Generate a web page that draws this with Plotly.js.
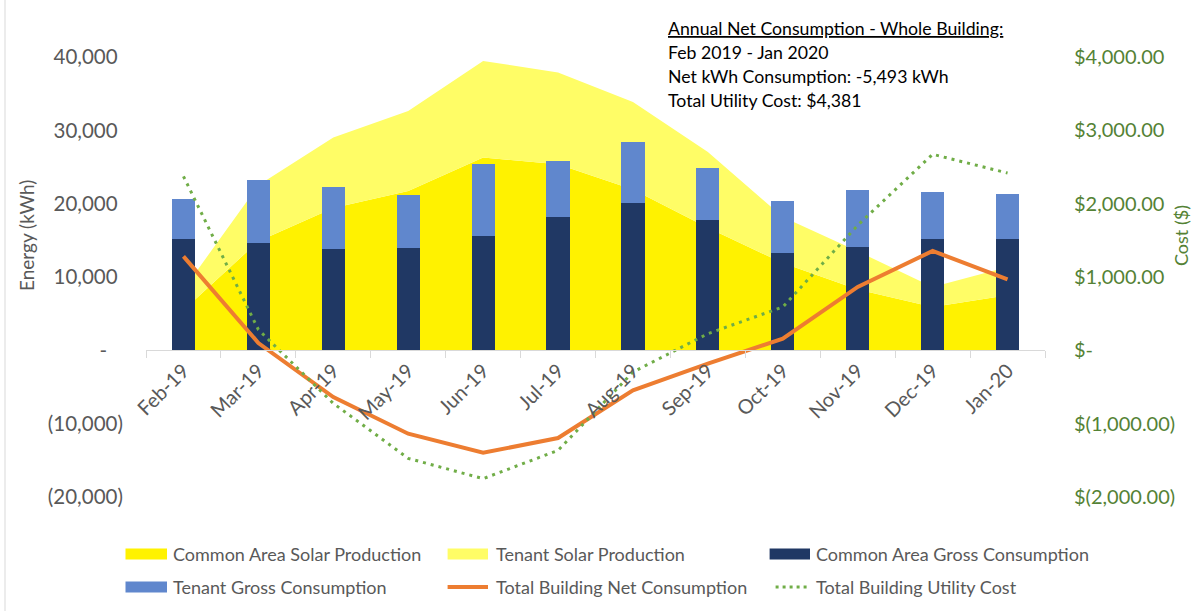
<!DOCTYPE html>
<html>
<head>
<meta charset="utf-8">
<script src="https://cdn.plot.ly/plotly-3.0.1.min.js"></script>
<style>html,body{margin:0;padding:0;background:#fff;}#chart{width:1193px;height:611px;}</style>
</head>
<body>
<div id="chart"></div>
<script>
// ---- data ----
const months = ['Feb-19','Mar-19','Apr-19','May-19','Jun-19','Jul-19','Aug-19','Sep-19','Oct-19','Nov-19','Dec-19','Jan-20'];
const commonSolar = [5460, 14870, 19410, 21730, 26280, 25370, 21920, 16730, 11910, 8280, 5910, 7500];
const tenantSolar = [2840, 7630, 9600, 10910, 13180, 12510, 11950, 10320, 6270, 5220, 2730, 3860];
const commonGross = [15240, 14690, 13870, 14010, 15640, 18240, 20090, 17780, 13320, 14090, 15140, 15140];
const tenantGross = [5360, 8590, 8410, 7130, 9830, 7540, 8320, 7050, 7000, 7780, 6510, 6230];
const netConsumption = [12820, 1000, -6370, -11370, -13960, -11960, -5460, -1820, 1590, 8640, 13550, 9690];
const utilityCost = [2373, 282, -723, -1473, -1750, -1364, -296, 227, 591, 1705, 2673, 2418];

const energyTicks = [-20000, -10000, 0, 10000, 20000, 30000, 40000];
const energyTickText = ['(20,000)', '(10,000)', '-\u00a0\u00a0\u00a0', '10,000\u00a0', '20,000\u00a0', '30,000\u00a0', '40,000\u00a0'];
const costTicks = [-2000, -1000, 0, 1000, 2000, 3000, 4000];
const costTickText = ['$(2,000.00)', '$(1,000.00)', '$-', '$1,000.00', '$2,000.00', '$3,000.00', '$4,000.00'];

const infoLines = [
  '<u>Annual Net Consumption - Whole Building:</u>',
  'Feb 2019 - Jan 2020',
  'Net kWh Consumption: -5,493 kWh',
  'Total Utility Cost: $4,381'
];

const seriesNames = ['Common Area Solar Production', 'Tenant Solar Production', 'Common Area Gross Consumption',
                     'Tenant Gross Consumption', 'Total Building Net Consumption', 'Total Building Utility Cost'];
const seriesColors = ['#FFF200', '#FFFD66', '#203864', '#6087CD', '#ED7D31', '#70AD47'];

// ---- geometry helpers ----
const W = 1193, H = 611;
const M = {l: 146, r: 148, t: 57, b: 114, autoexpand: false};
const PW = W - M.l - M.r, PH = H - M.t - M.b;
const px = x => (x - M.l) / PW;
const py = y => (H - M.b - y) / PH;

const FONT = 'Lato, "Open Sans", sans-serif';
const GRAY = '#595959';
const GREEN_TXT = '#548235';

const traces = [
  {name: seriesNames[0], x: months, y: commonSolar, type: 'scatter', mode: 'lines',
   stackgroup: 'solar', line: {width: 0, color: seriesColors[0]}, fillcolor: seriesColors[0], xaxis: 'x', yaxis: 'y'},
  {name: seriesNames[1], x: months, y: tenantSolar, type: 'scatter', mode: 'lines',
   stackgroup: 'solar', line: {width: 0, color: seriesColors[1]}, fillcolor: seriesColors[1], xaxis: 'x', yaxis: 'y'},
  {name: seriesNames[2], x: months, y: commonGross, type: 'bar',
   marker: {color: seriesColors[2]}, xaxis: 'x', yaxis: 'y2'},
  {name: seriesNames[3], x: months, y: tenantGross, type: 'bar',
   marker: {color: seriesColors[3]}, xaxis: 'x', yaxis: 'y2'},
  {name: seriesNames[4], x: months, y: netConsumption, type: 'scatter', mode: 'lines',
   line: {color: seriesColors[4], width: 4}, xaxis: 'x', yaxis: 'y2'},
  {name: seriesNames[5], x: months, y: utilityCost, type: 'scatter', mode: 'lines',
   line: {color: seriesColors[5], width: 3, dash: '3px,5px'}, xaxis: 'x', yaxis: 'y3'}
];

const annotations = infoLines.map((t, i) => ({
  text: t, xref: 'paper', yref: 'paper', x: px(666), y: py([28.5, 52.5, 76.5, 100][i]),
  xanchor: 'left', yanchor: 'middle', showarrow: false, align: 'left',
  font: {family: FONT, size: 17.7, color: '#000000'}
}));
annotations.push({
  text: 'Energy (kWh)', xref: 'paper', yref: 'paper', x: px(26), y: py(236), textangle: -90,
  xanchor: 'center', yanchor: 'middle', showarrow: false, font: {family: FONT, size: 19, color: GRAY}
});
annotations.push({
  text: 'Cost ($)', xref: 'paper', yref: 'paper', x: px(1181), y: py(236), textangle: -90,
  xanchor: 'center', yanchor: 'middle', showarrow: false, font: {family: FONT, size: 18, color: GREEN_TXT}
});

// ---- legend drawn as layout decoration (3 columns x 2 rows, like the reference) ----
const legCols = [{sym: [125.5, 167], txt: 171}, {sym: [447.6, 488], txt: 493.5}, {sym: [769.6, 810], txt: 814}];
const legRows = [554, 587];
const shapes = [{type: 'line', xref: 'paper', yref: 'paper', x0: px(5), x1: px(5), y0: py(611), y1: py(0),
                 line: {color: '#D9D9D9', width: 1}}];
seriesNames.forEach((nm, i) => {
  const col = legCols[i % 3], rowY = legRows[Math.floor(i / 3)];
  if (i < 4) {
    shapes.push({type: 'rect', xref: 'paper', yref: 'paper', x0: px(col.sym[0]), x1: px(col.sym[1]),
                 y0: py(rowY + 5.5), y1: py(rowY - 5.5), line: {width: 0}, fillcolor: seriesColors[i]});
  } else if (i === 4) {
    shapes.push({type: 'line', xref: 'paper', yref: 'paper', x0: px(col.sym[0]), x1: px(col.sym[1]),
                 y0: py(rowY), y1: py(rowY), line: {color: seriesColors[i], width: 4}});
  } else {
    shapes.push({type: 'line', xref: 'paper', yref: 'paper', x0: px(col.sym[0] + 6), x1: px(col.sym[1]),
                 y0: py(rowY), y1: py(rowY), line: {color: seriesColors[i], width: 3, dash: '3px,4px'}});
  }
  annotations.push({text: nm, xref: 'paper', yref: 'paper', x: px(col.txt), y: py(rowY),
                    xanchor: 'left', yanchor: 'middle', showarrow: false,
                    font: {family: FONT, size: 18, color: GRAY}});
});

const layout = {
  width: W, height: H,
  margin: M,
  paper_bgcolor: '#ffffff', plot_bgcolor: 'rgba(0,0,0,0)',
  barmode: 'stack', bargap: 0.69,
  showlegend: false,
  xaxis: {type: 'category', anchor: 'free', position: 1/3, range: [-0.5, 11.5],
          showline: true, linecolor: '#D9D9D9', linewidth: 1,
          ticks: 'outside', tickson: 'boundaries', ticklen: 7, tickcolor: '#D9D9D9',
          tickangle: -45, tickfont: {family: FONT, size: 20, color: GRAY},
          showgrid: false, zeroline: false, fixedrange: true},
  yaxis: {range: [-20000, 40000], tickvals: energyTicks, ticktext: energyTickText,
          ticks: 'outside', ticklen: 18, tickcolor: 'rgba(0,0,0,0)',
          tickfont: {family: FONT, size: 20.5, color: GRAY},
          showgrid: false, zeroline: false, showline: false},
  yaxis2: {range: [-20000, 40000], overlaying: 'y', visible: false, showgrid: false, zeroline: false},
  yaxis3: {range: [-2000, 4000], overlaying: 'y', side: 'right', anchor: 'x',
           tickvals: costTicks, ticktext: costTickText,
           ticks: 'outside', ticklen: 24, tickcolor: 'rgba(0,0,0,0)',
           tickfont: {family: FONT, size: 20, color: GREEN_TXT},
           showgrid: false, zeroline: false, showline: false},
  annotations: annotations,
  shapes: shapes
};

Plotly.newPlot('chart', traces, layout, {displayModeBar: false, staticPlot: true});
</script>
</body>
</html>
